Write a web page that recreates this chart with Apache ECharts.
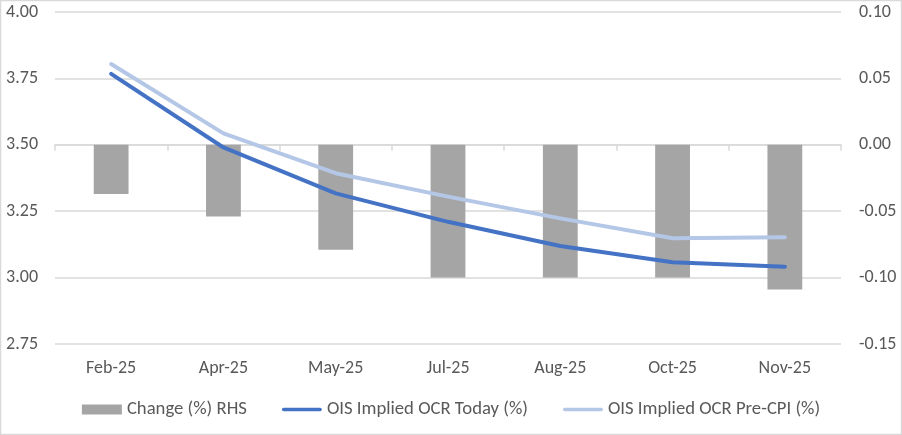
<!DOCTYPE html>
<html><head><meta charset="utf-8">
<script src="https://cdn.jsdelivr.net/npm/echarts@6/dist/echarts.min.js"></script>
<style>html,body{margin:0;padding:0;background:#fff}#c{width:902px;height:435px}</style>
</head><body><div id="c"></div>
<script>
const categories = ['Feb-25','Apr-25','May-25','Jul-25','Aug-25','Oct-25','Nov-25'];
const changeRHS = [-0.037,-0.054,-0.079,-0.100,-0.100,-0.100,-0.109];
const oisToday = [3.767,3.490,3.317,3.210,3.119,3.058,3.041];
const oisPreCPI = [3.804,3.543,3.393,3.305,3.223,3.148,3.152];
const seriesNames = ['Change (%) RHS','OIS Implied OCR Today (%)','OIS Implied OCR Pre-CPI (%)'];

const FONT = "Carlito, 'Liberation Sans Narrow', 'DejaVu Sans Condensed', sans-serif";
const lineIcon = 'path://M0,0 L0.01,0 L0.01,0.01 Z M2,3 L42,3 A2,2 0 0 1 42,7 L2,7 A2,2 0 0 1 2,3 Z M0,10 L0.01,10 L0.01,9.99 Z';
const chart = echarts.init(document.getElementById('c'), null, {renderer:'canvas'});
chart.setOption({
  animation:false,
  backgroundColor:'#fff',
  textStyle:{fontFamily:FONT},
  graphic:[{type:'rect',shape:{x:0.5,y:0.5,width:901,height:434},style:{fill:'none',stroke:'#d9d9d9',lineWidth:1.5},silent:true}],
  grid:{left:55,right:61,top:12,bottom:91},
  legend:{
    top:395,left:'center',itemWidth:40,itemHeight:10,itemGap:35,
    textStyle:{color:'#595959',fontSize:18.7,fontFamily:FONT},
    data:[{name:seriesNames[0],icon:'rect'},{name:seriesNames[1],icon:lineIcon},{name:seriesNames[2],icon:lineIcon}]
  },
  xAxis:{type:'category',data:categories,
    axisLine:{lineStyle:{color:'#d9d9d9',width:1.5}},
    axisTick:{show:true,length:6,lineStyle:{color:'#d9d9d9',width:1.5}},
    axisLabel:{color:'#595959',fontSize:18,margin:15}},
  yAxis:[
    {type:'value',min:2.75,max:4,interval:0.25,
     axisLine:{show:false},axisTick:{show:false},
     splitLine:{lineStyle:{color:'#d9d9d9',width:1.5}},
     axisLabel:{color:'#595959',fontSize:18,margin:17,formatter:v=>v.toFixed(2)}},
    {type:'value',min:-0.15,max:0.10,interval:0.05,position:'right',
     axisLine:{show:false},axisTick:{show:false},splitLine:{show:false},
     axisLabel:{color:'#595959',fontSize:18,margin:18,formatter:v=>(Math.abs(v)<1e-9?0:v).toFixed(2)}}
  ],
  series:[
    {name:seriesNames[0],type:'bar',yAxisIndex:1,data:changeRHS,barWidth:'31%',itemStyle:{color:'#a5a5a5'}},
    {name:seriesNames[1],type:'line',yAxisIndex:0,data:oisToday,symbol:'none',
     lineStyle:{color:'#4472c4',width:4,cap:'round',join:'round'},itemStyle:{color:'#4472c4'}},
    {name:seriesNames[2],type:'line',yAxisIndex:0,data:oisPreCPI,symbol:'none',
     lineStyle:{color:'#b4c7e7',width:4,cap:'round',join:'round'},itemStyle:{color:'#b4c7e7'}}
  ]
});
</script></body></html>
